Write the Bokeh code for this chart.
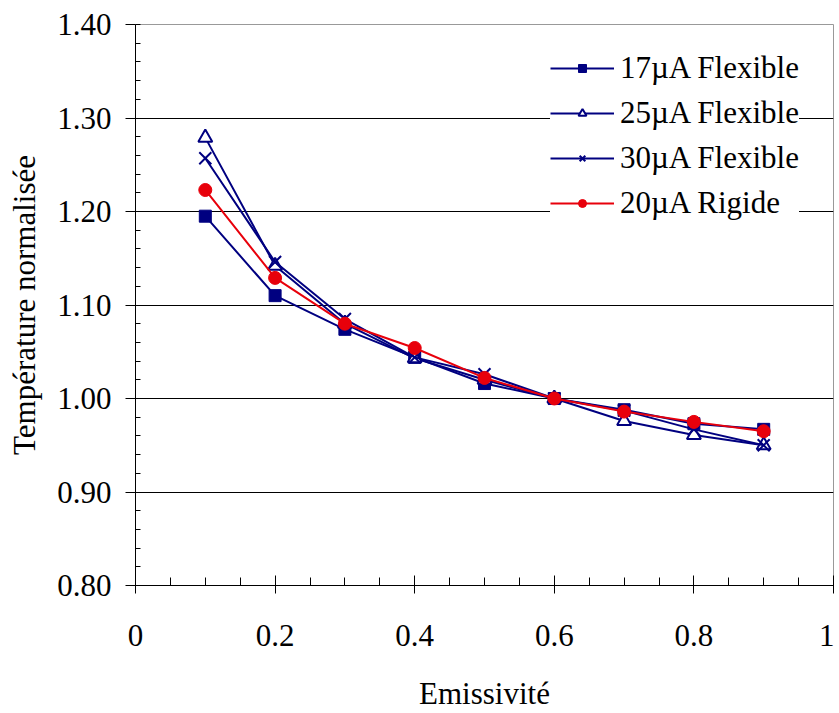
from bokeh.plotting import figure
from bokeh.models import Range1d, FixedTicker, Legend
from bokeh.embed import file_html
from bokeh.resources import INLINE

emissivite = [0.1, 0.2, 0.3, 0.4, 0.5, 0.6, 0.7, 0.8, 0.9]
flex17 = [1.195, 1.110, 1.074, 1.044, 1.016, 1.000, 0.988, 0.973, 0.967]
flex25 = [1.279, 1.142, 1.080, 1.043, 1.020, 1.000, 0.976, 0.961, 0.950]
flex30 = [1.257, 1.146, 1.085, 1.044, 1.026, 1.000, 0.987, 0.967, 0.950]
rigide20 = [1.223, 1.129, 1.080, 1.054, 1.022, 1.000, 0.986, 0.975, 0.965]

x_ticks = [0, 0.2, 0.4, 0.6, 0.8, 1.0]
x_tick_labels = ["0", "0.2", "0.4", "0.6", "0.8", "1"]
y_ticks = [0.8, 0.9, 1.0, 1.1, 1.2, 1.3, 1.4]
y_tick_labels = ["0.80", "0.90", "1.00", "1.10", "1.20", "1.30", "1.40"]

FONT = "'Liberation Serif', 'DejaVu Serif', serif"
NAVY = "#000080"
RED = "#E8000B"

p = figure(width=834, height=713, output_backend="svg", toolbar_location=None,
           x_range=Range1d(0, 1), y_range=Range1d(0.8, 1.4),
           min_border_left=135, min_border_top=24, min_border_right=1, min_border_bottom=128)
p.background_fill_color = "white"
p.border_fill_color = "white"
p.outline_line_color = "#999999"

# axes
p.xaxis.ticker = FixedTicker(ticks=x_ticks, minor_ticks=[i * 0.05 for i in range(21)])
p.xaxis.major_label_overrides = {t: l for t, l in zip(x_ticks, x_tick_labels)}
p.yaxis.ticker = FixedTicker(ticks=y_ticks, minor_ticks=[0.8 + i * 0.02 for i in range(31)])
p.yaxis.major_label_overrides = {t: l for t, l in zip(y_ticks, y_tick_labels)}

for ax in (p.xaxis, p.yaxis):
    ax.axis_line_color = "black"
    ax.axis_line_width = 1
    ax.major_tick_line_color = "black"
    ax.minor_tick_line_color = "black"
    ax.major_label_text_font = FONT
    ax.major_label_text_font_size = "31px"
    ax.major_label_text_color = "black"
    ax.axis_label_text_font = FONT
    ax.axis_label_text_font_size = "31px"
    ax.axis_label_text_font_style = "normal"
    ax.axis_label_text_color = "black"

p.xaxis.major_tick_in = 10
p.xaxis.major_tick_out = 8
p.xaxis.minor_tick_in = 8
p.xaxis.minor_tick_out = 0
p.xaxis.major_label_standoff = 31
p.xaxis.major_label_text_line_height = 0.8
p.xaxis.axis_label = "Emissivité"
p.xaxis.axis_label_standoff = 27
p.xaxis.axis_label_text_line_height = 0.6

p.yaxis.major_tick_in = 0
p.yaxis.major_tick_out = 10
p.yaxis.minor_tick_in = 5
p.yaxis.minor_tick_out = 0
p.yaxis.major_label_standoff = 14
p.yaxis.axis_label = "Température normalisée"
p.yaxis.axis_label_standoff = 12

p.xgrid.grid_line_color = None
p.ygrid.ticker = FixedTicker(ticks=y_ticks)
p.ygrid.grid_line_color = "black"
p.ygrid.grid_line_width = 1

# series
l1 = p.line(emissivite, flex17, line_color=NAVY, line_width=2)
m1 = p.scatter(emissivite, flex17, marker="square", size=12, fill_color=NAVY, line_color=NAVY)
l2 = p.line(emissivite, flex25, line_color=NAVY, line_width=2)
m2 = p.scatter(emissivite, flex25, marker="triangle", size=14, fill_color="white", line_color=NAVY, line_width=2)
l3 = p.line(emissivite, flex30, line_color=NAVY, line_width=2)
m3 = p.scatter(emissivite, flex30, marker="x", size=17, line_color=NAVY, line_width=2)
l4 = p.line(emissivite, rigide20, line_color=RED, line_width=2)
m4 = p.scatter(emissivite, rigide20, marker="circle", size=13, fill_color=RED, line_color=RED)

legend = Legend(items=[
    ("17\u00b5A Flexible", [l1, m1]),
    ("25\u00b5A Flexible", [l2, m2]),
    ("30\u00b5A Flexible", [l3, m3]),
    ("20\u00b5A Rigide", [l4, m4]),
], location=(415, 364))
legend.label_text_font = FONT
legend.label_text_font_size = "31px"
legend.label_text_color = "black"
legend.border_line_color = None
legend.background_fill_color = "white"
legend.background_fill_alpha = 1.0
legend.glyph_width = 64
legend.glyph_height = 20
legend.label_standoff = 6
legend.spacing = 9
legend.padding = 25
legend.margin = 0
p.add_layout(legend)

open("out.html", "w").write(file_html(p, INLINE))
